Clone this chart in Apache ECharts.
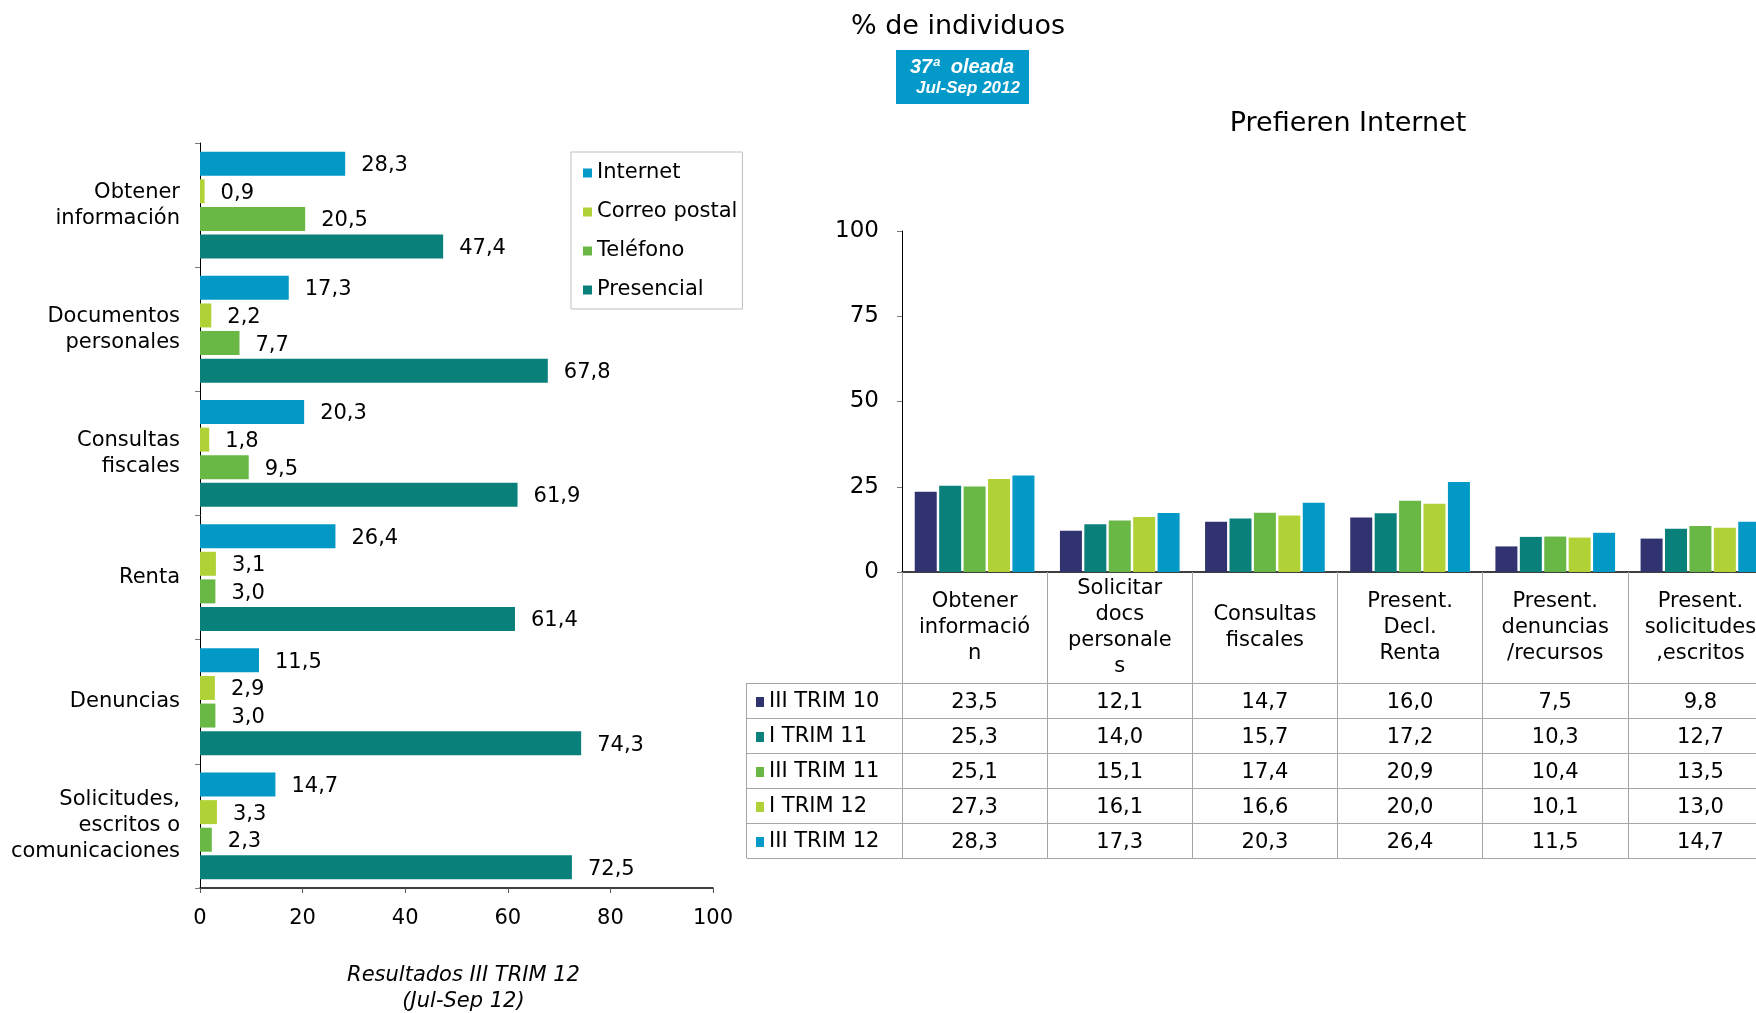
<!DOCTYPE html>
<html><head><meta charset="utf-8">
<script src="https://cdn.jsdelivr.net/npm/echarts@6/dist/echarts.min.js"></script>
<style>html,body{margin:0;padding:0;background:#fff}#c{width:1756px;height:1013px}</style>
</head><body><div id="c"></div>
<script>
// ---- Left chart data (Resultados III TRIM 12) ----
const leftCategories = ['Obtener\ninformación', 'Documentos\npersonales', 'Consultas\nfiscales', 'Renta', 'Denuncias', 'Solicitudes,\nescritos o\ncomunicaciones'];
const channels = ['Internet', 'Correo postal', 'Teléfono', 'Presencial'];
const internet = [28.3, 17.3, 20.3, 26.4, 11.5, 14.7];
const correoPostal = [0.9, 2.2, 1.8, 3.1, 2.9, 3.3];
const telefono = [20.5, 7.7, 9.5, 3.0, 3.0, 2.3];
const presencial = [47.4, 67.8, 61.9, 61.4, 74.3, 72.5];
const leftTicks = [0, 20, 40, 60, 80, 100];

// ---- Right chart data (Prefieren Internet) ----
const rightCategories = ['Obtener\ninformació\nn', 'Solicitar\ndocs\npersonale\ns', 'Consultas\nfiscales', 'Present.\nDecl.\nRenta', 'Present.\ndenuncias\n/recursos', 'Present.\nsolicitudes\n,escritos'];
const periods = ['III TRIM 10', 'I TRIM 11', 'III TRIM 11', 'I TRIM 12', 'III TRIM 12'];
const trimIII10 = [23.5, 12.1, 14.7, 16.0, 7.5, 9.8];
const trimI11 = [25.3, 14.0, 15.7, 17.2, 10.3, 12.7];
const trimIII11 = [25.1, 15.1, 17.4, 20.9, 10.4, 13.5];
const trimI12 = [27.3, 16.1, 16.6, 20.0, 10.1, 13.0];
const trimIII12 = [28.3, 17.3, 20.3, 26.4, 11.5, 14.7];
const rightTicks = [0, 25, 50, 75, 100];

// ---- styling ----
const FONT = 'DejaVu Sans, Verdana, sans-serif';
const C_BLUE = '#0399c7', C_LIME = '#b1d236', C_GREEN = '#69b845', C_TEAL = '#0a807b', C_NAVY = '#30336f';
const GRID_LINE = '#a6a6a6';
const fmt = v => v.toFixed(1).replace('.', ',');

const leftSeriesData = [internet, correoPostal, telefono, presencial];
const leftColors = [C_BLUE, C_LIME, C_GREEN, C_TEAL];
const rightSeriesData = [trimIII10, trimI11, trimIII11, trimI12, trimIII12];
const rightColors = [C_NAVY, C_TEAL, C_GREEN, C_LIME, C_BLUE];

// table layout (right chart data table)
const AXIS_Y = 572, ROW_TOP = 683, ROW_H = 35, TABLE_LEFT = 746.5;

const chart = echarts.init(document.getElementById('c'), null, { renderer: 'canvas' });

const rowAxes = rightSeriesData.map((row, k) => ({
  type: 'category', gridIndex: 1, position: 'bottom',
  data: rightCategories,
  offset: ROW_TOP + ROW_H * k + ROW_H / 2 + 2 - AXIS_Y,
  axisLine: { show: false }, axisTick: { show: false }, splitLine: { show: false },
  axisLabel: {
    interval: 0, margin: 0, verticalAlign: 'middle', fontFamily: FONT, fontSize: 21, color: '#000',
    formatter: (v, i) => fmt(row[i])
  }
}));

const graphics = [
  { type: 'text', x: 958, y: 27, style: { text: '% de individuos', font: '27px ' + FONT, fill: '#000', align: 'center', verticalAlign: 'middle' } },
  { type: 'rect', shape: { x: 896, y: 50, width: 133, height: 54 }, style: { fill: '#0399c8' } },
  { type: 'text', x: 962, y: 67, style: { text: '37ª  oleada', font: 'italic bold 20px Liberation Sans, Arial, sans-serif', fill: '#fff', align: 'center', verticalAlign: 'middle' } },
  { type: 'text', x: 968, y: 88, style: { text: 'Jul-Sep 2012', font: 'italic bold 17px Liberation Sans, Arial, sans-serif', fill: '#fff', align: 'center', verticalAlign: 'middle' } },
  { type: 'text', x: 1348, y: 124, style: { text: 'Prefieren Internet', font: '27px ' + FONT, fill: '#000', align: 'center', verticalAlign: 'middle' } },
  // table left border
  { type: 'line', shape: { x1: TABLE_LEFT, y1: ROW_TOP, x2: TABLE_LEFT, y2: ROW_TOP + ROW_H * periods.length }, style: { stroke: GRID_LINE, lineWidth: 1 } }
];
for (let k = 0; k <= periods.length; k++) {
  const y = ROW_TOP + ROW_H * k + 0.5;
  graphics.push({ type: 'line', shape: { x1: TABLE_LEFT, y1: y, x2: 1756, y2: y }, style: { stroke: GRID_LINE, lineWidth: 1 } });
}

const option = {
  animation: false,
  backgroundColor: '#fff',
  textStyle: { fontFamily: FONT },
  grid: [
    { left: 200, top: 143, width: 513, height: 745, outerBoundsMode: 'none', containLabel: false },
    { left: 902, top: 231, width: 871, height: 341, outerBoundsMode: 'none', containLabel: false }
  ],
  legend: [
    {
      data: channels, orient: 'vertical', left: 571, top: 152,
      padding: [9, 5, 7, 12], borderColor: '#bfbfbf', borderWidth: 1,
      itemWidth: 9, itemHeight: 9, itemGap: 15, icon: 'rect', selectedMode: false,
      textStyle: { fontFamily: FONT, fontSize: 21, lineHeight: 24, color: '#000' }
    },
    {
      data: periods, orient: 'vertical', left: 756, top: 690, padding: 0,
      itemWidth: 8, itemHeight: 10, itemGap: 11, icon: 'rect', selectedMode: false,
      textStyle: { fontFamily: FONT, fontSize: 21, lineHeight: 24, color: '#000' }
    }
  ],
  xAxis: [
    {
      type: 'value', gridIndex: 0, min: leftTicks[0], max: leftTicks[leftTicks.length - 1], interval: leftTicks[1] - leftTicks[0],
      axisLine: { show: true, lineStyle: { color: '#000', width: 1.5 } },
      axisTick: { show: true, length: 5, lineStyle: { color: '#555' } },
      splitLine: { show: false },
      axisLabel: { fontFamily: FONT, fontSize: 21, color: '#000', margin: 20 },
      name: 'Resultados III TRIM 12\n(Jul-Sep 12)', nameLocation: 'middle', nameGap: 75,
      nameTextStyle: { fontFamily: FONT, fontStyle: 'italic', fontSize: 21, lineHeight: 26, color: '#000', padding: [0, 0, 0, 14] }
    },
    {
      type: 'category', gridIndex: 1, data: rightCategories,
      axisLine: { show: true, lineStyle: { color: '#000', width: 1.5 } },
      axisTick: { show: true, interval: 0, length: ROW_TOP + ROW_H * periods.length - AXIS_Y, lineStyle: { color: GRID_LINE } },
      axisLabel: { interval: 0, margin: 56, verticalAlign: 'middle', lineHeight: 26, fontFamily: FONT, fontSize: 21, color: '#000' }
    },
    ...rowAxes
  ],
  yAxis: [
    {
      type: 'category', gridIndex: 0, inverse: true, data: leftCategories,
      axisLine: { show: true, lineStyle: { color: '#000', width: 1 } },
      axisTick: { show: true, length: 5, lineStyle: { color: '#777' } },
      axisLabel: { fontFamily: FONT, fontSize: 21, lineHeight: 26, color: '#000', margin: 20, padding: [4, 0, 0, 0] }
    },
    {
      type: 'value', gridIndex: 1, min: rightTicks[0], max: rightTicks[rightTicks.length - 1], interval: rightTicks[1] - rightTicks[0],
      axisLine: { show: true, lineStyle: { color: '#000', width: 1 } },
      axisTick: { show: true, length: 5, lineStyle: { color: '#777' } },
      splitLine: { show: false },
      axisLabel: { fontFamily: FONT, fontSize: 23, color: '#000', margin: 23 }
    }
  ],
  series: [
    ...leftSeriesData.map((d, i) => ({
      type: 'bar', name: channels[i], xAxisIndex: 0, yAxisIndex: 0, data: d,
      barWidth: 24, barGap: '15%',
      itemStyle: { color: leftColors[i] },
      label: { show: true, position: 'right', distance: 16, offset: [0, 2], fontFamily: FONT, fontSize: 21, color: '#000', formatter: p => fmt(p.value) }
    })),
    ...rightSeriesData.map((d, i) => ({
      type: 'bar', name: periods[i], xAxisIndex: 1, yAxisIndex: 1, data: d,
      barWidth: 22, barGap: '11%',
      itemStyle: { color: rightColors[i] }
    }))
  ],
  graphic: graphics
};
chart.setOption(option);
</script></body></html>
